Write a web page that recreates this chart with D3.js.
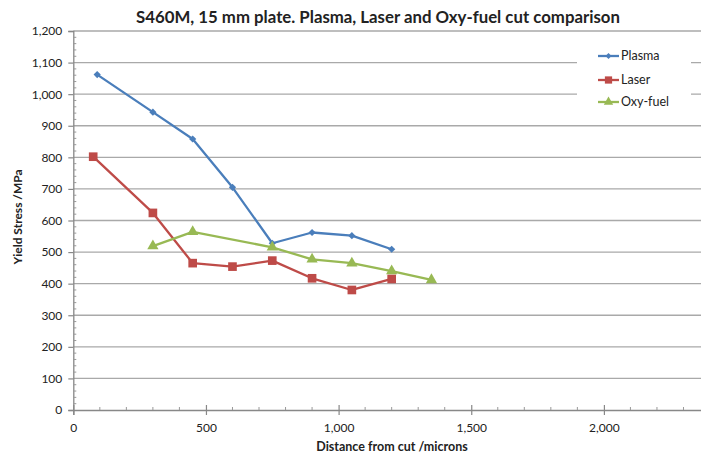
<!DOCTYPE html>
<html><head><meta charset="utf-8">
<script src="https://cdn.jsdelivr.net/npm/d3@7"></script>
<style>body{margin:0;background:#fff;overflow:hidden}svg{display:block}</style>
</head><body>
<script>
const title = "S460M, 15 mm plate. Plasma, Laser and Oxy-fuel cut comparison";
const xTitle = "Distance from cut /microns";
const yTitle = "Yield Stress /MPa";
const plasmaX = [90, 300, 450, 600, 750, 900, 1050, 1200];
const plasmaY = [1062, 943, 858, 705, 528, 562, 552, 509];
const laserX = [75, 300, 450, 600, 750, 900, 1050, 1200];
const laserY = [802, 624, 465, 454, 473, 417, 380, 415];
const oxyX = [300, 450, 750, 900, 1050, 1200, 1350];
const oxyY = [519, 564, 515, 477, 465, 440, 412];
const seriesNames = ["Plasma", "Laser", "Oxy-fuel"];
const seriesColors = ["#4A7EBB", "#BE4B48", "#98B954"];
const xTicks = [0, 500, 1000, 1500, 2000];
const yTicks = [0, 100, 200, 300, 400, 500, 600, 700, 800, 900, 1000, 1100, 1200];

const W = 701, H = 457;
const FONT = "Lato, 'Open Sans', sans-serif";
const svg = d3.select("body").append("svg").attr("width", W).attr("height", H);

const x = d3.scaleLinear().domain([0, 2500]).range([73.3, 73.3 + 2500 * 0.2653]);
const y = d3.scaleLinear().domain([0, 1200]).range([410, 31]);
const fmt = d3.format(",");

// gridlines
svg.append("g").selectAll("line").data(yTicks.filter(d => d > 0)).join("line")
  .attr("x1", x(0)).attr("x2", W).attr("y1", d => y(d)).attr("y2", d => y(d))
  .attr("stroke", "#a9a9a9").attr("stroke-width", 1.3);

// legend background (breaks gridlines)
svg.append("rect").attr("x", 577).attr("y", 38).attr("width", 114).attr("height", 76).attr("fill", "#fff");

// y axis
const yAxis = svg.append("g").attr("transform", `translate(${x(0)},0)`)
  .call(d3.axisLeft(y).tickValues(yTicks).tickFormat(fmt).tickSize(5).tickPadding(6));
yAxis.select(".domain").attr("stroke", "#888").attr("stroke-width", 1.3);
yAxis.selectAll(".tick line").attr("stroke", "#888").attr("stroke-width", 1.2);
yAxis.selectAll("text").attr("font-family", FONT).attr("font-size", 12).attr("fill", "#222");
// minor y ticks inside
svg.append("g").selectAll("line").data(d3.range(0, 1201, 20).filter(d => d % 100 !== 0)).join("line")
  .attr("x1", x(0)).attr("x2", x(0) + 3).attr("y1", d => y(d)).attr("y2", d => y(d))
  .attr("stroke", "#999").attr("stroke-width", 1);

// x axis
const xAxis = svg.append("g").attr("transform", `translate(0,${y(0)})`)
  .call(d3.axisBottom(x).tickValues(xTicks).tickFormat(fmt).tickSize(5).tickPadding(8));
xAxis.select(".domain").attr("stroke", "#888").attr("stroke-width", 1.3);
xAxis.selectAll(".tick line").attr("y1", -5).attr("stroke", "#888").attr("stroke-width", 1.2);
xAxis.selectAll("text").attr("font-family", FONT).attr("font-size", 12).attr("fill", "#222");
// minor x ticks inside
svg.append("g").selectAll("line").data(d3.range(100, 2500, 100).filter(d => d % 500 !== 0)).join("line")
  .attr("x1", d => x(d)).attr("x2", d => x(d)).attr("y1", y(0)).attr("y2", y(0) - 3)
  .attr("stroke", "#999").attr("stroke-width", 1);

// series
const series = [
  {name: seriesNames[0], color: seriesColors[0], xs: plasmaX, ys: plasmaY, sym: d3.symbolSquare, size: 26, rot: 45},
  {name: seriesNames[1], color: seriesColors[1], xs: laserX, ys: laserY, sym: d3.symbolSquare, size: 75, rot: 0},
  {name: seriesNames[2], color: seriesColors[2], xs: oxyX, ys: oxyY, sym: d3.symbolTriangle, size: 55, rot: 0}
];
const line = d3.line().x(d => x(d[0])).y(d => y(d[1]));
series.forEach(s => {
  const pts = s.xs.map((v, i) => [v, s.ys[i]]);
  svg.append("path").datum(pts).attr("d", line).attr("fill", "none")
    .attr("stroke", s.color).attr("stroke-width", 2.3).attr("stroke-linejoin", "round");
  svg.append("g").selectAll("path").data(pts).join("path")
    .attr("d", d3.symbol().type(s.sym).size(s.size))
    .attr("transform", d => `translate(${x(d[0])},${y(d[1])}) rotate(${s.rot})`)
    .attr("fill", s.color);
});

// legend
const legY = [56, 80, 102];
series.forEach((s, i) => {
  const g = svg.append("g").attr("transform", `translate(598,${legY[i]})`);
  g.append("line").attr("x1", 0).attr("x2", 21).attr("stroke", s.color).attr("stroke-width", 2.3);
  g.append("path").attr("d", d3.symbol().type(s.sym).size(s.size * 0.7)).attr("transform", `translate(10.5,0) rotate(${s.rot})`).attr("fill", s.color);
  g.append("text").attr("x", 23).attr("dy", "0.35em").text(s.name)
    .attr("font-family", FONT).attr("font-size", 12.5).attr("fill", "#222");
});

// titles
svg.append("text").attr("x", 378).attr("y", 17).attr("dy", "0.35em").attr("text-anchor", "middle")
  .attr("font-family", FONT).attr("font-weight", "bold").attr("font-size", 16.8).attr("fill", "#222").text(title);
svg.append("text").attr("x", 392).attr("y", 447).attr("dy", "0.35em").attr("text-anchor", "middle")
  .attr("font-family", FONT).attr("font-weight", "bold").attr("font-size", 12.5).attr("fill", "#222").text(xTitle);
svg.append("text").attr("transform", "translate(18,217) rotate(-90)").attr("dy", "0.35em").attr("text-anchor", "middle")
  .attr("font-family", FONT).attr("font-weight", "bold").attr("font-size", 12).attr("fill", "#222").text(yTitle);
</script>
</body></html>
